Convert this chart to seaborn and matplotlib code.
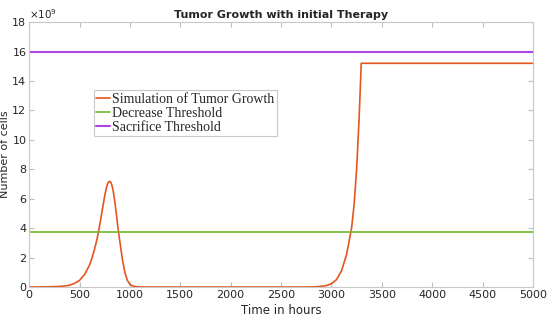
import numpy as np
import pandas as pd
import seaborn as sns
import matplotlib.pyplot as plt

# wartości (w jednostkach 1e9 komórek)
time_h = [0, 100, 200, 300, 350, 400, 450, 500, 550, 600, 625, 650, 675, 700, 725, 750, 765,
          780, 790, 800, 810, 820, 835, 850, 865, 880, 900, 925, 950, 975, 1000, 1025, 1050,
          1100, 1200, 1500, 2000, 2500, 2700, 2800, 2850, 2900, 2950, 3000, 3050, 3100, 3150,
          3200, 3225, 3250, 3275, 3296, 3500, 4000, 4500, 5000]
cells = [0.0, 0.01, 0.02, 0.04, 0.07, 0.12, 0.25, 0.45, 0.85, 1.5, 2.0, 2.6, 3.3, 4.2, 5.2,
         6.2, 6.7, 7.05, 7.15, 7.18, 7.12, 6.95, 6.5, 5.8, 5.0, 4.1, 3.1, 1.9, 1.0, 0.45,
         0.18, 0.08, 0.04, 0.01, 0.0, 0.0, 0.0, 0.0, 0.0, 0.01, 0.02, 0.05, 0.1, 0.22, 0.5,
         1.1, 2.2, 4.0, 5.6, 8.0, 11.5, 15.2, 15.2, 15.2, 15.2, 15.2]
decrease_thr = 3.72
sacrifice_thr = 16.0
x_span = [0, 5000]

df = pd.DataFrame({'t': time_h, 'n': np.array(cells) * 1e9})
thr = pd.DataFrame({'t': x_span,
                    'dec': [decrease_thr * 1e9] * 2,
                    'sac': [sacrifice_thr * 1e9] * 2})

sns.set_style('white')
plt.rcParams['font.family'] = ['DejaVu Sans']

fig = plt.figure(figsize=(5.5, 3.2), dpi=100)
ax = fig.add_axes([0.053, 0.103, 0.916, 0.828])

sns.lineplot(data=df, x='t', y='n', color='#E4561E', lw=1.2, ax=ax,
             label='Simulation of Tumor Growth')
sns.lineplot(data=thr, x='t', y='dec', color='#72B62A', lw=1.2, ax=ax,
             label='Decrease Threshold')
sns.lineplot(data=thr, x='t', y='sac', color='#B043E6', lw=1.5, ax=ax,
             label='Sacrifice Threshold')

ax.set_xlim(0, 5000)
ax.set_ylim(0, 18e9)
ax.set_xticks(range(0, 5001, 500))
ax.set_yticks(np.arange(0, 19, 2) * 1e9)
ax.set_yticklabels([str(v) for v in range(0, 19, 2)])
ax.tick_params(direction='in', length=3.5, width=0.8, color='#bdbdbd', labelsize=8,
               labelcolor='#262626', bottom=True, left=True, top=True, right=True, pad=2)
for s in ax.spines.values():
    s.set_color('#c8c8c8')
    s.set_linewidth(0.8)
ax.text(0.0, 1.005, r'$\times10^{9}$', transform=ax.transAxes, fontsize=7.5,
        color='#262626', ha='left', va='bottom')

ax.set_xlabel('Time in hours', fontsize=8.5, color='#262626', va='center')
ax.xaxis.set_label_coords(0.5, -0.088)
ax.set_ylabel('Number of cells', fontsize=8, color='#262626', va='center')
ax.yaxis.set_label_coords(-0.047, 0.5)
ax.set_title('Tumor Growth with initial Therapy', fontsize=8, fontweight='bold', pad=3)

leg = ax.legend(loc='upper left', bbox_to_anchor=(0.128, 0.742), frameon=True,
                fancybox=False, edgecolor='#c8c8c8', framealpha=1,
                prop={'family': 'Liberation Serif', 'size': 10},
                handlelength=1.0, handletextpad=0.15, borderpad=0.2, labelspacing=0.05,
                borderaxespad=0)
leg.get_frame().set_linewidth(0.8)

fig.savefig('out.png', dpi=100)
